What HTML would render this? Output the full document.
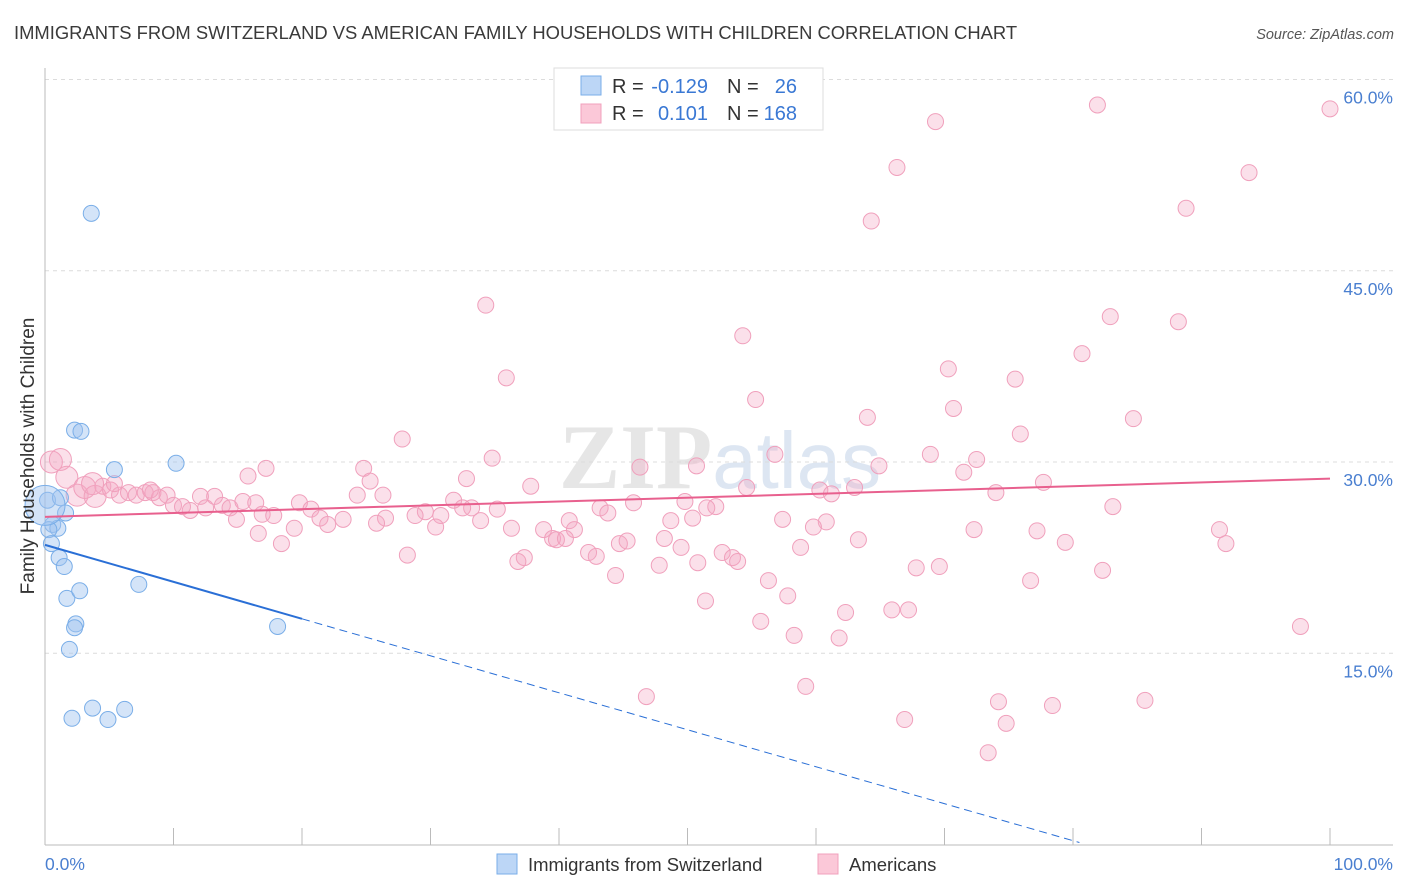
<!DOCTYPE html>
<html><head><meta charset="utf-8"><style>
body{margin:0;background:#fff;font-family:"Liberation Sans",sans-serif}
svg{display:block}
</style></head><body>
<svg id="c" width="1406" height="892" xmlns="http://www.w3.org/2000/svg">
<text x="14" y="39" font-size="18.4" fill="#3a3a3a">IMMIGRANTS FROM SWITZERLAND VS AMERICAN FAMILY HOUSEHOLDS WITH CHILDREN CORRELATION CHART</text>
<text x="1394" y="39" font-size="14.5" fill="#555" font-style="italic" text-anchor="end">Source: ZipAtlas.com</text>
<text x="720" y="488" font-size="92" fill="#e6e6e6" text-anchor="middle" font-weight="bold" font-family="Liberation Serif,serif">ZIP<tspan fill="#dde6f2" font-family="Liberation Sans,sans-serif" font-weight="normal" font-size="80">atlas</tspan></text>
<g id="grid"></g>
<g id="axes"></g>
<g id="pts"></g>
<g id="lines"></g>
<text transform="translate(34,456) rotate(-90)" font-size="19" fill="#333" text-anchor="middle">Family Households with Children</text>
<g font-size="20">
<rect x="554" y="68" width="269" height="62" fill="#fff" stroke="#ddd"/>
<rect x="581" y="76" width="20" height="19" fill="#bcd6f6" stroke="#7aaee8"/>
<rect x="581" y="104" width="20" height="19" fill="#fbc8d8" stroke="#f0a0bc"/>
<text x="612" y="93" fill="#333">R =</text>
<text x="708" y="93" fill="#3a78d4" text-anchor="end">-0.129</text>
<text x="727" y="93" fill="#333">N =</text>
<text x="797" y="93" fill="#3a78d4" text-anchor="end">26</text>
<text x="612" y="120" fill="#333">R =</text>
<text x="708" y="120" fill="#3a78d4" text-anchor="end">0.101</text>
<text x="727" y="120" fill="#333">N =</text>
<text x="797" y="120" fill="#3a78d4" text-anchor="end">168</text>
</g>
<g>
<rect x="497" y="854" width="20" height="20" fill="#bcd6f6" stroke="#7aaee8"/>
<text x="528" y="871" font-size="18.5" fill="#333">Immigrants from Switzerland</text>
<rect x="818" y="854" width="20" height="20" fill="#fbc8d8" stroke="#f0a0bc"/>
<text x="849" y="871" font-size="18.5" fill="#333">Americans</text>
</g>
</svg>
<script>
const yTicks=[15,30,45,60];
const yTickLabels=["15.0%","30.0%","45.0%","60.0%"];
const xTickVals=[0,10,20,30,40,50,60,70,80,90,100];
const blueX=[3.6,2.3,2.8,5.4,10.2,0.2,1.2,1.6,0.6,1.0,0.3,0.5,1.1,1.5,1.7,2.7,7.3,2.4,2.3,18.1,1.9,2.1,3.7,6.2,4.9,0];
const blueY=[49.5,32.5,32.4,29.4,29.9,27.0,27.2,26.0,25.1,24.8,24.7,23.6,22.5,21.8,19.3,19.9,20.4,17.3,17.0,17.1,15.3,9.9,10.7,10.6,9.8,26.6];
const pinkX=[81.9,100,69.3,66.3,93.7,88.8,64.3,34.3,82.9,88.2,54.3,80.7,35.9,70.3,75.5,55.3,70.7,64.0,84.7,75.9,27.8,68.9,34.8,56.8,72.5,50.7,46.3,64.9,17.2,24.8,15.8,71.5,32.8,25.3,77.7,37.8,54.6,63.0,60.3,61.2,74.0,26.3,24.3,49.8,31.8,45.8,19.8,83.1,52.2,51.5,35.2,33.2,20.7,43.2,43.8,29.6,28.8,32.5,30.8,26.5,23.2,21.4,50.4,33.9,40.8,57.4,60.8,48.7,25.8,22.0,36.3,30.4,59.8,19.4,38.8,41.2,77.2,72.3,91.4,16.6,39.5,39.8,40.5,48.2,63.3,79.4,91.9,18.4,44.7,45.3,58.8,49.5,42.3,52.7,28.2,42.9,53.5,53.9,37.3,36.8,47.8,50.8,67.8,69.6,82.3,44.4,56.3,76.7,57.8,51.4,62.3,65.9,67.2,55.7,97.7,58.3,61.8,59.2,46.8,74.2,78.4,85.6,66.9,74.8,73.4,0.5,1.2,1.7,2.5,3.1,3.9,4.5,5.1,5.8,6.5,7.1,7.8,8.4,8.9,9.5,10.0,10.7,11.3,12.1,12.5,13.2,13.8,14.4,14.9,15.4,16.4,16.9,17.8,3.7,5.4,8.2];
const pinkY=[58.0,57.7,56.7,53.1,52.7,49.9,48.9,42.3,41.4,41.0,39.9,38.5,36.6,37.3,36.5,34.9,34.2,33.5,33.4,32.2,31.8,30.6,30.3,30.6,30.2,29.7,29.6,29.7,29.5,29.5,28.9,29.2,28.7,28.5,28.4,28.1,28.0,28.0,27.8,27.5,27.6,27.4,27.4,26.9,27.0,26.8,26.8,26.5,26.5,26.4,26.3,26.4,26.3,26.4,26.0,26.1,25.8,26.4,25.8,25.6,25.5,25.6,25.6,25.4,25.4,25.5,25.3,25.4,25.2,25.1,24.8,24.9,24.9,24.8,24.7,24.7,24.6,24.7,24.7,24.4,24.0,23.9,24.0,24.0,23.9,23.7,23.6,23.6,23.6,23.8,23.3,23.3,22.9,22.9,22.7,22.6,22.5,22.2,22.5,22.2,21.9,22.1,21.7,21.8,21.5,21.1,20.7,20.7,19.5,19.1,18.2,18.4,18.4,17.5,17.1,16.4,16.2,12.4,11.6,11.2,10.9,11.3,9.8,9.5,7.2,30.0,30.2,28.8,27.4,28.0,27.3,28.1,27.8,27.4,27.6,27.4,27.6,27.6,27.2,27.4,26.6,26.5,26.2,27.3,26.4,27.3,26.6,26.4,25.5,26.9,26.8,25.9,25.8,28.3,28.3,27.8];
const blueTrend=[23.5,-0.29];
const pinkTrend=[25.7,0.030];
const NS="http://www.w3.org/2000/svg";
const X=v=>45+v*12.85, Y=v=>462-(v-30)*12.75;
function mk(p,t,a){const e=document.createElementNS(NS,t);for(const k in a)e.setAttribute(k,a[k]);p.appendChild(e);return e;}
const g=document.getElementById('grid'),ax=document.getElementById('axes'),pts=document.getElementById('pts'),ln=document.getElementById('lines');
yTicks.forEach((t,i)=>{
 const l=mk(g,'line',{x1:45,x2:1393,y1:Y(t),y2:Y(t),stroke:'#dcdcdc','stroke-dasharray':'4,4'});
 
 
 const tx=mk(g,'text',{x:1393,y:Y(t)+24,'font-size':17.5,fill:'#4a7fd0','text-anchor':'end'});tx.textContent=yTickLabels[i];
 
 
});
mk(ax,'line',{x1:45,x2:45,y1:68,y2:845,stroke:'#bbb'});
mk(ax,'line',{x1:45,x2:1393,y1:845,y2:845,stroke:'#bbb'});
xTickVals.forEach(t=>{const l=mk(ax,'line',{x1:X(t),x2:X(t),y1:828,y2:845,stroke:'#bbb'});
 
 });
let t0=mk(ax,'text',{x:45,y:870,'font-size':17.5,fill:'#4a7fd0'});t0.textContent='0.0%';


let t1=mk(ax,'text',{x:1393,y:870,'font-size':17.5,fill:'#4a7fd0','text-anchor':'end'});t1.textContent='100.0%';


pinkX.forEach((x,i)=>{const big=(x<4.5&&i>120);const c=mk(pts,'circle',{cx:X(x),cy:Y(pinkY[i]),r:big?11:8,fill:'rgba(244,165,194,0.35)',stroke:'#f0a0bc','stroke-width':1});
 
 });
blueX.forEach((x,i)=>{const c=mk(pts,'circle',{cx:X(x),cy:Y(blueY[i]),r:i==blueX.length-1?20:8,fill:'rgba(160,196,240,0.45)',stroke:'#7aaee8','stroke-width':1});
 
 });
const bl=v=>blueTrend[0]+blueTrend[1]*v;
let a=mk(ln,'line',{x1:X(0),y1:Y(bl(0)),x2:X(20),y2:Y(bl(20)),stroke:'#2a6fd6','stroke-width':2});


let b=mk(ln,'line',{x1:X(20),y1:Y(bl(20)),x2:X(80.5),y2:Y(bl(80.5)),stroke:'#2a6fd6','stroke-width':1,'stroke-dasharray':'8,5'});


const pl=v=>pinkTrend[0]+pinkTrend[1]*v;
let p=mk(ln,'line',{x1:X(0),y1:Y(pl(0)),x2:X(100),y2:Y(pl(100)),stroke:'#e8608e','stroke-width':2});


</script>
</body></html>
